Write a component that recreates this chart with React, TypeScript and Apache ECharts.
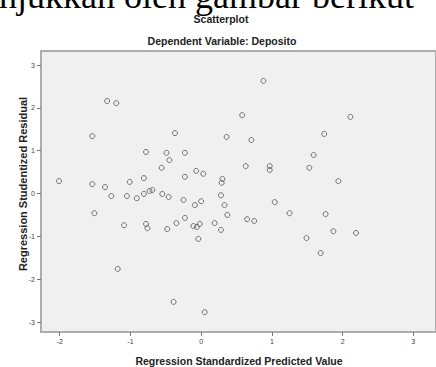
import React, { useEffect, useRef } from "react";
import * as echarts from "echarts";

const predictedValues = [
  -2.01, -1.54, -1.54, -1.51, -1.36, -1.33, -1.2, -1.27, -1.18, -1.09,
  -1.05, -1.01, -0.91, -0.81, -0.81, -0.78, -0.78, -0.76, -0.73, -0.69,
  -0.56, -0.55, -0.49, -0.46, -0.45, -0.48, -0.39, -0.37, -0.35, -0.25,
  -0.23, -0.23, -0.23, -0.11, -0.09, -0.07, -0.06, -0.02, -0.04, 0.0,
  0.03, 0.05, 0.19, 0.28, 0.28, 0.3, 0.29, 0.33, 0.36, 0.37,
  0.58, 0.63, 0.65, 0.75, 0.71, 0.88, 0.97, 0.97, 1.04, 1.25,
  1.49, 1.53, 1.59, 1.69, 1.74, 1.76, 1.87, 1.94, 2.11, 2.19,
];
const residuals = [
  0.29, 1.34, 0.22, -0.46, 0.15, 2.16, 2.11, -0.06, -1.76, -0.74,
  -0.06, 0.27, -0.11, -0.01, 0.36, 0.97, -0.71, -0.81, 0.06, 0.08,
  0.6, -0.01, 0.95, -0.08, 0.78, -0.83, -2.53, 1.41, -0.69, -0.15,
  0.95, 0.39, -0.57, -0.76, -0.27, 0.53, -0.78, -0.71, -1.06, -0.18,
  0.46, -2.77, -0.69, -0.04, -0.85, 0.34, 0.25, -0.27, 1.32, -0.5,
  1.83, 0.64, -0.6, -0.64, 1.25, 2.63, 0.64, 0.55, -0.2, -0.46,
  -1.04, 0.6, 0.9, -1.39, 1.39, -0.48, -0.88, 0.29, 1.79, -0.92,
];
const xTicks = [-2, -1, 0, 1, 2, 3];
const yTicks = [-3, -2, -1, 0, 1, 2, 3];

const headline = "njukkan oleh gambar berikut";
const chartTitle = "Scatterplot";
const chartSubtitle = "Dependent Variable: Deposito";
const xTitle = "Regression Standardized Predicted Value";
const yTitle = "Regression Studentized Residual";

export default function App() {
  const ref = useRef<HTMLDivElement>(null);
  useEffect(() => {
    if (!ref.current) return;
    const chart = echarts.init(ref.current, null, { renderer: "svg" });
    const data = predictedValues.map((x, i) => [x, residuals[i]]);
    const font = "Liberation Sans, Arial, sans-serif";
    chart.setOption({
      animation: false,
      backgroundColor: "#ffffff",
      grid: {
        left: 41,
        top: 51,
        width: 400,
        height: 281,
        show: true,
        backgroundColor: "#f0f0f0",
        borderColor: "#adadad",
        borderWidth: 2,
        containLabel: false,
      },
      xAxis: {
        type: "value",
        min: -2.265,
        max: 3.321,
        splitLine: { show: false },
        axisLine: { show: false, onZero: false },
        axisTick: {
          show: true,
          length: 4,
          customValues: xTicks,
          lineStyle: { color: "#777", width: 1 },
        },
        axisLabel: {
          customValues: xTicks,
          fontSize: 7,
          color: "#444",
          fontFamily: font,
          margin: 6,
          formatter: (v: number) => String(v),
        },
      },
      yAxis: {
        type: "value",
        min: -3.233,
        max: 3.327,
        splitLine: { show: false },
        axisLine: { show: false, onZero: false },
        axisTick: {
          show: true,
          length: 4,
          customValues: yTicks,
          lineStyle: { color: "#777", width: 1 },
        },
        axisLabel: {
          customValues: yTicks,
          fontSize: 7,
          color: "#444",
          fontFamily: font,
          margin: 6,
          formatter: (v: number) => String(v),
        },
      },
      series: [
        {
          type: "scatter",
          data,
          symbol: "circle",
          symbolSize: 5,
          itemStyle: {
            color: "rgba(0,0,0,0)",
            borderColor: "#555",
            borderWidth: 1,
          },
        },
      ],
      graphic: [
        {
          type: "text",
          left: -1,
          top: -22,
          style: {
            text: headline,
            font: "36px 'Liberation Serif', 'Times New Roman', serif",
            fill: "#000",
          },
        },
        {
          type: "text",
          x: 221,
          y: 19,
          style: {
            text: chartTitle,
            font: "bold 10.5px 'Liberation Sans', Arial, sans-serif",
            fill: "#222",
            textAlign: "center",
            textVerticalAlign: "middle",
          },
        },
        {
          type: "text",
          x: 222,
          y: 41,
          style: {
            text: chartSubtitle,
            font: "bold 10.5px 'Liberation Sans', Arial, sans-serif",
            fill: "#222",
            textAlign: "center",
            textVerticalAlign: "middle",
          },
        },
        {
          type: "text",
          x: 239,
          y: 361,
          style: {
            text: xTitle,
            font: "bold 10.5px 'Liberation Sans', Arial, sans-serif",
            fill: "#222",
            textAlign: "center",
            textVerticalAlign: "middle",
          },
        },
        {
          type: "text",
          x: 23,
          y: 184,
          rotation: Math.PI / 2,
          style: {
            text: yTitle,
            font: "bold 11px 'Liberation Sans', Arial, sans-serif",
            fill: "#222",
            textAlign: "center",
            textVerticalAlign: "middle",
          },
        },
      ],
    });
    return () => chart.dispose();
  }, []);
  return (
    <div
      ref={ref}
      style={{ position: "fixed", left: 0, top: 0, width: 436, height: 367 }}
    />
  );
}
